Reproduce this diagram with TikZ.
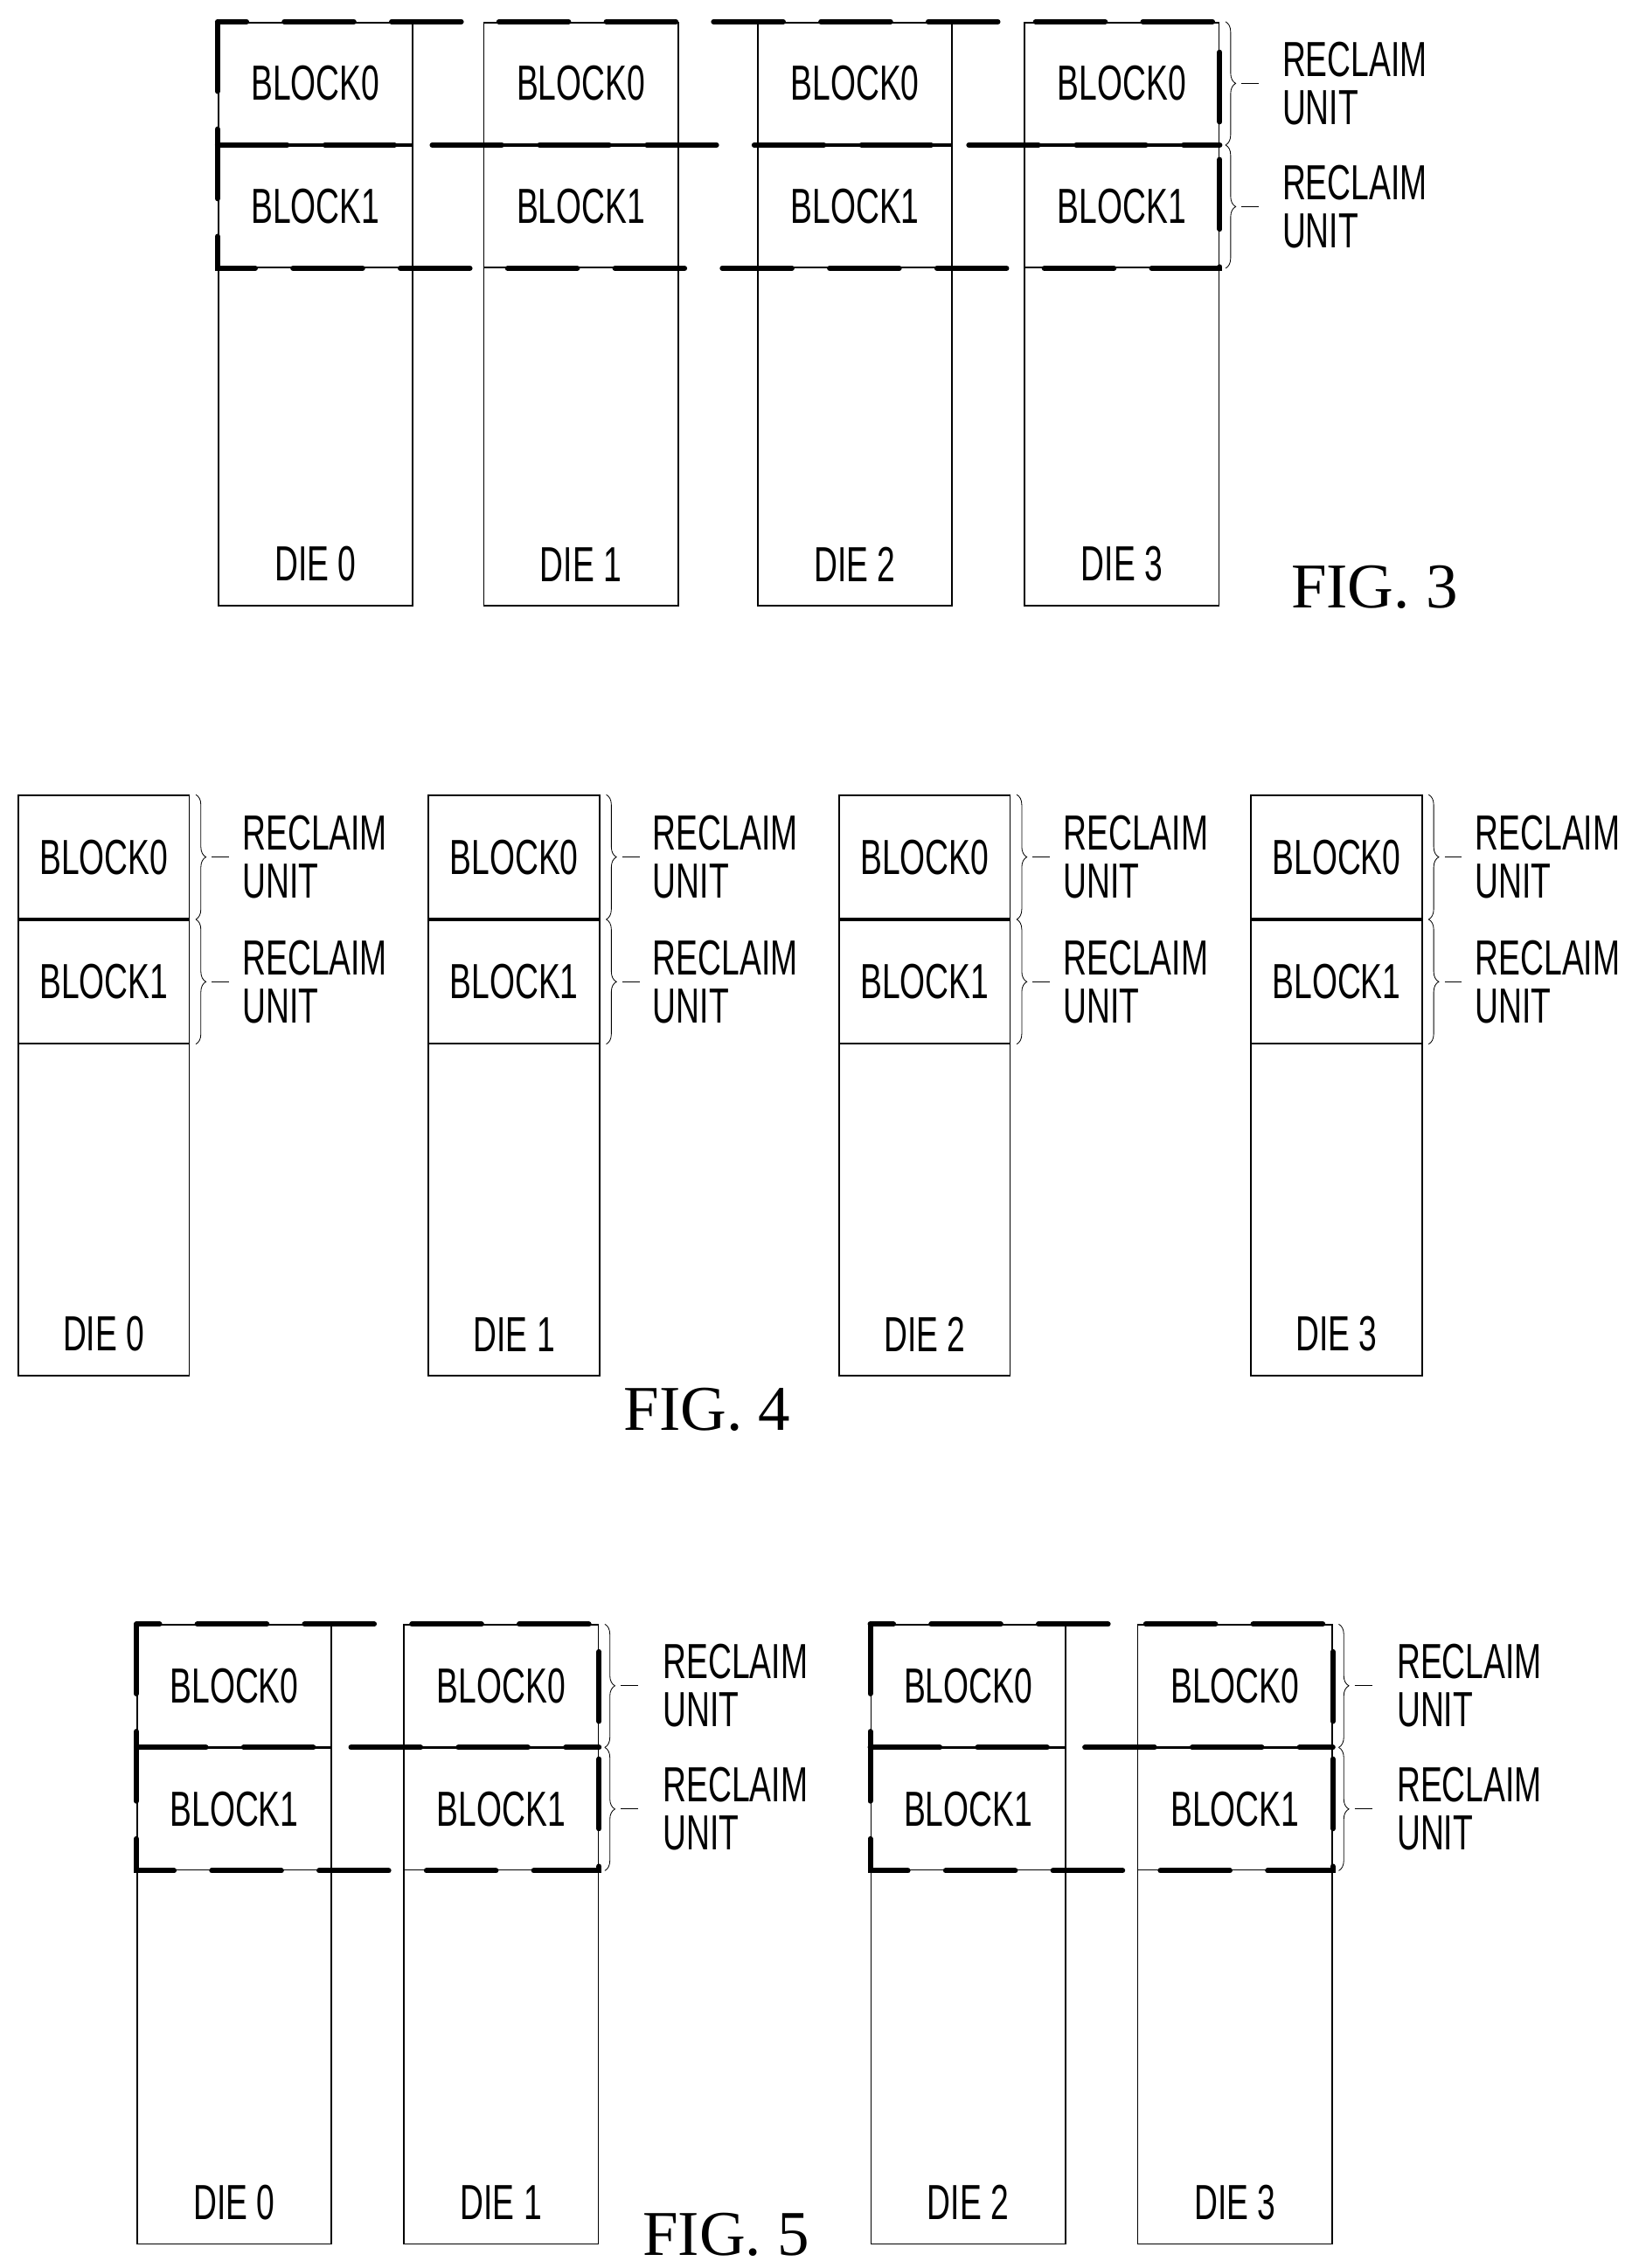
\documentclass[tikz,border=0pt]{standalone}
\usepackage{fontspec}
\setmainfont{Liberation Serif}
\newfontfamily\nar[FakeStretch=0.66]{Liberation Sans}
\usetikzlibrary{decorations.pathreplacing}
\begin{document}
\begin{tikzpicture}[x=1pt,y=-1pt,
  box/.style={draw,line width=1pt,inner sep=0pt},
  lab/.style={font=\nar\fontsize{34}{34}\selectfont,inner sep=0pt},
  rlab/.style={lab,align=left,anchor=west,font=\nar\fontsize{34}{33}\selectfont},
  grp/.style={line width=3.6pt,dash pattern=on 48pt off 26pt,line cap=round},
  brc/.style={line width=0.5pt,decorate,decoration={brace,amplitude=7pt}},
  fig/.style={font=\fontsize{44}{44}\selectfont,inner sep=0pt}]
\useasboundingbox (0,0) rectangle (1130,1564);
\newcommand\mydie[8]{%
  \node[box,minimum width=#4pt,minimum height=#6pt,anchor=north west] (#1) at (#2,#3) {};
  \node[box,lab,minimum width=#4pt,minimum height=#5pt,anchor=north west] (#1b0) at (#2,#3) {BLOCK0};
  \node[box,lab,minimum width=#4pt,minimum height=#5pt,anchor=north] (#1b1) at (#1b0.south) {BLOCK1};
  \node[lab,anchor=south] (#1l) at ([yshift=17pt]#1.south) {DIE #7};
}
\newcommand\myru[2]{%
  \draw[brc] ([xshift=4pt]#1.north east) -- ([xshift=4pt]#1.south east) coordinate[pos=0.5] (#1m);
  \coordinate (#1t) at ([xshift=11pt]#1m);
  \draw[line width=0.5pt] (#1t) -- ++(12,0);
  \node[rlab] (#1r) at ([xshift=#2pt]#1.east) {RECLAIM\\UNIT};
}
% FIG 3
\mydie{a0}{150}{15}{134}{84}{402}{0}{0}
\mydie{a1}{333}{15}{134}{84}{402}{1}{0}
\mydie{a2}{522}{15}{134}{84}{402}{2}{0}
\mydie{a3}{706}{15}{134}{84}{402}{3}{0}
\myru{a3b0}{43}
\myru{a3b1}{43}
\draw[grp] (a0b0.north west) rectangle (a3b1.south east);
\draw[grp] (a0b0.south west) -- (a3b0.south east);
\node[fig,anchor=south west] (f3) at (890,420) {FIG. 3};
% FIG 4
\mydie{b0}{12}{548}{118}{85}{400}{0}{0}
\mydie{b1}{295}{548}{118}{85}{400}{1}{0}
\mydie{b2}{578}{548}{118}{85}{400}{2}{0}
\mydie{b3}{862}{548}{118}{85}{400}{3}{0}
\foreach \d in {b0,b1,b2,b3}{\myru{\d b0}{36}\myru{\d b1}{36}}
\node[fig,anchor=south west] (f4) at (430,987) {FIG. 4};
% FIG 5
\mydie{c0}{94}{1120}{134}{84}{427}{0}{0}
\mydie{c1}{278}{1120}{134}{84}{427}{1}{0}
\mydie{c2}{600}{1120}{134}{84}{427}{2}{0}
\mydie{c3}{784}{1120}{134}{84}{427}{3}{0}
\foreach \d in {c1,c3}{\myru{\d b0}{44}\myru{\d b1}{44}}
\draw[grp] (c0b0.north west) rectangle (c1b1.south east);
\draw[grp] (c0b0.south west) -- (c1b0.south east);
\draw[grp] (c2b0.north west) rectangle (c3b1.south east);
\draw[grp] (c2b0.south west) -- (c3b0.south east);
\node[fig,anchor=south west] (f5) at (443,1556) {FIG. 5};
\end{tikzpicture}
\end{document}
